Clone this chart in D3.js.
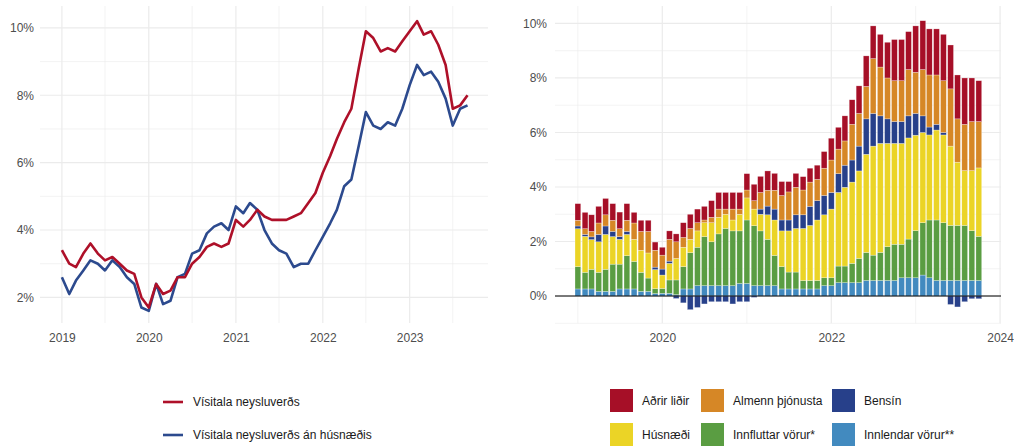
<!DOCTYPE html>
<html>
<head>
<meta charset="utf-8">
<script src="https://cdn.jsdelivr.net/npm/d3@7"></script>
<style>
    body { margin: 0; background: #fff; }
    svg text { font-family: "Liberation Sans", Arial, sans-serif; }
</style>
</head>
<body>
<svg id="chart" width="1014" height="447"></svg>
<script>
// --- data -----------------------------------------------------------------
// 12 mánaða breyting, Jan 2019 - Sep 2023
var visitala = [
    3.4, 3.0, 2.9, 3.3, 3.6, 3.3, 3.1, 3.2, 3.0, 2.8, 2.7, 2.0,
    1.7, 2.4, 2.1, 2.2, 2.6, 2.6, 3.0, 3.2, 3.5, 3.6, 3.5, 3.6,
    4.3, 4.1, 4.3, 4.6, 4.4, 4.3, 4.3, 4.3, 4.4, 4.5, 4.8, 5.1,
    5.7, 6.2, 6.7, 7.2, 7.6, 8.8, 9.9, 9.7, 9.3, 9.4, 9.3, 9.6,
    9.9, 10.2, 9.8, 9.9, 9.5, 8.9, 7.6, 7.7, 8.0
];
var visitalaAnHusnaedis = [
    2.6, 2.1, 2.5, 2.8, 3.1, 3.0, 2.8, 3.1, 2.9, 2.6, 2.4, 1.7,
    1.6, 2.4, 1.8, 1.9, 2.6, 2.7, 3.3, 3.4, 3.9, 4.1, 4.2, 4.0,
    4.7, 4.5, 4.8, 4.6, 4.0, 3.6, 3.4, 3.3, 2.9, 3.0, 3.0, 3.4,
    3.8, 4.2, 4.6, 5.3, 5.5, 6.5, 7.5, 7.1, 7.0, 7.2, 7.1, 7.6,
    8.3, 8.9, 8.6, 8.7, 8.4, 7.9, 7.1, 7.6, 7.7
];

// framlag undirliða, Jan 2019 - Okt 2023
var innlendarVorur = [
    .26, .26, .26, .17, .17, .17, .26, .26, .26, .17, .17, .09,
    .10, .10, .05, .26, .26, .38, .38, .38, .38, .38, .38, .46,
    .46, .38, .38, .38, .38, .26, .26, .26, .26, .26, .26, .38,
    .38, .49, .49, .49, .49, .57, .57, .57, .57, .57, .67, .67,
    .67, .77, .67, .57, .57, .57, .57, .57, .57, .57
];
var innfluttarVorur = [
    .82, .61, .72, .70, .81, 1.00, .91, 1.22, 1.01, .70, .49, .18,
    .18, .49, .54, .82, 1.33, 1.41, 1.80, 1.61, 1.90, 2.10, 2.01, 1.93,
    2.33, 2.20, 2.01, 1.70, 1.11, .82, .62, .62, .31, .31, .31, .29,
    .29, .61, .61, .71, .89, 1.03, .93, 1.03, 1.24, 1.33, 1.23, 1.42,
    1.73, 1.92, 2.12, 2.22, 2.12, 2.02, 2.02, 2.02, 1.83, 1.62
];
var husnaedi = [
    1.39, 1.32, 1.09, 1.12, 1.28, 1.01, .91, .78, .81, .81, .92, .70,
    .49, .61, .79, .71, .49, .60, .51, .70, .61, .52, .40, .61,
    .81, .61, .61, .90, 1.30, 1.31, 1.51, 1.60, 1.91, 2.02, 2.22, 2.31,
    2.52, 2.70, 2.89, 2.98, 3.21, 3.60, 4.00, 4.00, 3.79, 3.70, 3.70, 3.71,
    3.50, 3.31, 3.12, 3.30, 3.22, 2.91, 2.32, 2.01, 2.20, 2.51
];
var bensin = [
    .10, .07, .10, .27, .31, .19, .10, .11, 0, 0, 0, .09,
    .22, .08, -.09, -.25, -.50, -.42, -.29, -.21, -.21, -.21, -.29, -.21,
    -.21, -.05, .19, .32, .40, .40, .40, .50, .50, .70, .71, .71,
    .61, .69, .81, .81, .91, 1.30, 1.20, 1.01, .90, .80, .80, .81,
    .80, .61, .29, .21, .09, -.31, -.40, -.21, -.10, -.10
];
var almennThjonusta = [
    .21, .21, .20, .42, .41, .41, .29, .41, .60, .69, .79, .62,
    .51, .80, .61, .36, .40, .30, .10, .20, .30, .19, .40, .19,
    .29, .31, .61, .58, .69, .90, 1.03, 1.01, .91, .89, .78, 1.00,
    1.19, .90, .89, 1.31, 1.20, 1.19, 2.01, 1.79, 1.50, 1.50, 1.50, 1.70,
    1.51, 1.70, 1.91, 1.81, 1.90, 2.10, 1.59, 1.70, 1.80, 1.70
];
var adrirLidir = [
    .61, .60, .61, .61, .60, .61, .61, .61, .39, .41, .41, .30,
    .29, .31, .29, .54, .52, .50, .50, .61, .61, .61, .61, .61,
    .60, .60, .59, .71, .62, .51, .38, .51, .49, .51, .52, .61,
    .80, .80, .92, .90, 1.01, 1.12, 1.20, 1.20, 1.31, 1.51, 1.51, 1.39,
    1.70, 1.79, 1.69, 1.69, 1.70, 1.61, 1.61, 1.70, 1.60, 1.50
];

var lineMonths = d3.timeMonth.range(new Date(2019, 0, 1), new Date(2023, 9, 1));
var barMonths = d3.timeMonth.range(new Date(2019, 0, 1), new Date(2023, 10, 1));

var lineSeries = [
    { name: 'Vísitala neysluverðs', color: '#ae1029', values: visitala },
    { name: 'Vísitala neysluverðs án húsnæðis', color: '#2c4a8e', values: visitalaAnHusnaedis }
];
var barKeys = ['innlendar', 'innfluttar', 'husnaedi', 'bensin', 'almenn', 'adrir'];
var barNames = {
    adrir: 'Aðrir liðir', almenn: 'Almenn þjónusta', bensin: 'Bensín',
    husnaedi: 'Húsnæði', innfluttar: 'Innfluttar vörur*', innlendar: 'Innlendar vörur**'
};
var barColors = {
    adrir: '#a60f27', almenn: '#d68726', bensin: '#27408a',
    husnaedi: '#ebd426', innfluttar: '#5a9d42', innlendar: '#428abf'
};

// --- helpers --------------------------------------------------------------
var svg = d3.select('#chart');
var gridColor = '#ebebeb';
var axisColor = '#4d4d4d';

function pct (d) { return d + '%'; }

function drawGrid (g, x, y, xMajor, xMinor, yMajor, yMinor) {
    var x0 = x.range()[0], x1 = x.range()[1];
    var y0 = y.range()[0], y1 = y.range()[1];
    g.append('g').selectAll('line').data(xMinor).join('line')
        .attr('x1', function (d) { return x(d); }).attr('x2', function (d) { return x(d); })
        .attr('y1', y0).attr('y2', y1)
        .attr('stroke', gridColor).attr('stroke-width', 0.6);
    g.append('g').selectAll('line').data(yMinor).join('line')
        .attr('x1', x0).attr('x2', x1)
        .attr('y1', function (d) { return y(d); }).attr('y2', function (d) { return y(d); })
        .attr('stroke', gridColor).attr('stroke-width', 0.6);
    g.append('g').selectAll('line').data(xMajor).join('line')
        .attr('x1', function (d) { return x(d); }).attr('x2', function (d) { return x(d); })
        .attr('y1', y0).attr('y2', y1)
        .attr('stroke', gridColor).attr('stroke-width', 1.2);
    g.append('g').selectAll('line').data(yMajor).join('line')
        .attr('x1', x0).attr('x2', x1)
        .attr('y1', function (d) { return y(d); }).attr('y2', function (d) { return y(d); })
        .attr('stroke', gridColor).attr('stroke-width', 1.2);
}

function drawAxes (g, x, y, xTicks, yTicks, yPad) {
    var xAxis = g.append('g')
        .attr('transform', 'translate(0,' + y.range()[0] + ')')
        .call(d3.axisBottom(x).tickValues(xTicks).tickSize(0).tickPadding(10.5)
            .tickFormat(d3.timeFormat('%Y')));
    var yAxis = g.append('g')
        .attr('transform', 'translate(' + x.range()[0] + ',0)')
        .call(d3.axisLeft(y).tickValues(yTicks).tickSize(0).tickPadding(yPad).tickFormat(pct));
    [xAxis, yAxis].forEach(function (a) {
        a.select('.domain').remove();
        a.selectAll('text')
            .attr('fill', axisColor)
            .style('font-size', '12px')
            .style('font-family', '"Liberation Sans", Arial, sans-serif');
    });
}

// --- left: line chart -----------------------------------------------------
var xL = d3.scaleTime()
    .domain([new Date(2018, 9, 1), new Date(2023, 10, 26)])
    .range([40, 488]);
var yL = d3.scaleLinear().domain([1.24, 10.65]).range([323, 6]);

var left = svg.append('g').attr('class', 'left');
drawGrid(left, xL, yL,
    d3.range(2019, 2024).map(function (yr) { return new Date(yr, 0, 1); }),
    d3.range(2019, 2024).map(function (yr) { return new Date(yr, 6, 1); }),
    [2, 4, 6, 8, 10], [3, 5, 7, 9]);

var line = d3.line()
    .x(function (d) { return xL(d.date); })
    .y(function (d) { return yL(d.value); });

lineSeries.slice().reverse().forEach(function (s) {
    var pts = lineMonths.map(function (m, i) { return { date: m, value: s.values[i] }; });
    left.append('path')
        .datum(pts)
        .attr('d', line)
        .attr('fill', 'none')
        .attr('stroke', s.color)
        .attr('stroke-width', 2.6)
        .attr('stroke-linejoin', 'round');
});

drawAxes(left, xL, yL,
    d3.range(2019, 2024).map(function (yr) { return new Date(yr, 0, 1); }),
    [2, 4, 6, 8, 10], 6);

// legend
var legL = left.append('g').attr('class', 'legend');
lineSeries.forEach(function (s, i) {
    var yPos = 402 + i * 33;
    legL.append('line')
        .attr('x1', 163).attr('x2', 183)
        .attr('y1', yPos).attr('y2', yPos)
        .attr('stroke', s.color).attr('stroke-width', 2.6);
    legL.append('text')
        .attr('x', 193).attr('y', yPos).attr('dy', '0.35em')
        .attr('fill', '#1a1a1a')
        .style('font-size', '12px')
        .text(s.name);
});

// --- right: stacked bars --------------------------------------------------
var xR = d3.scaleTime()
    .domain([new Date(2018, 8, 24), new Date(2024, 0, 5)])
    .range([555, 1001]);
var yR = d3.scaleLinear().domain([-1, 10.64]).range([323.3, 6]);

var right = svg.append('g').attr('class', 'right');
drawGrid(right, xR, yR,
    [2020, 2022, 2024].map(function (yr) { return new Date(yr, 0, 1); }),
    [2019, 2021, 2023].map(function (yr) { return new Date(yr, 0, 1); }),
    [0, 2, 4, 6, 8, 10], [-1, 1, 3, 5, 7, 9]);

var table = barMonths.map(function (m, i) {
    return {
        date: m,
        innlendar: innlendarVorur[i],
        innfluttar: innfluttarVorur[i],
        husnaedi: husnaedi[i],
        bensin: bensin[i],
        almenn: almennThjonusta[i],
        adrir: adrirLidir[i]
    };
});

var stacked = d3.stack().keys(barKeys).offset(d3.stackOffsetDiverging)(table);
var barW = xR(new Date(2019, 0, 26)) - xR(new Date(2019, 0, 1));

right.append('g').selectAll('g').data(stacked).join('g')
    .attr('fill', function (s) { return barColors[s.key]; })
    .selectAll('rect').data(function (s) { return s; }).join('rect')
    .attr('x', function (d) { return xR(d.data.date) - barW / 2; })
    .attr('width', barW)
    .attr('y', function (d) { return yR(Math.max(d[0], d[1])); })
    .attr('height', function (d) { return Math.abs(yR(d[0]) - yR(d[1])); })
    .attr('stroke', '#fff')
    .attr('stroke-opacity', 0.55)
    .attr('stroke-width', 0.5);

right.append('line')
    .attr('x1', xR.range()[0]).attr('x2', xR.range()[1])
    .attr('y1', yR(0)).attr('y2', yR(0))
    .attr('stroke', '#000').attr('stroke-width', 1.1);

drawAxes(right, xR, yR,
    [2020, 2022, 2024].map(function (yr) { return new Date(yr, 0, 1); }),
    [0, 2, 4, 6, 8, 10], 8);

// legend
var legOrder = [['adrir', 'almenn', 'bensin'], ['husnaedi', 'innfluttar', 'innlendar']];
var keyX = [610, 701, 832];
var legR = right.append('g').attr('class', 'legend');
legOrder.forEach(function (row, r) {
    row.forEach(function (k, c) {
        var top = 389 + r * 34;
        legR.append('rect')
            .attr('x', keyX[c]).attr('y', top)
            .attr('width', 23).attr('height', 23)
            .attr('fill', barColors[k]);
        legR.append('text')
            .attr('x', keyX[c] + 32).attr('y', top + 11.5).attr('dy', '0.35em')
            .attr('fill', '#1a1a1a')
            .style('font-size', '12px')
            .text(barNames[k]);
    });
});
</script>
</body>
</html>
